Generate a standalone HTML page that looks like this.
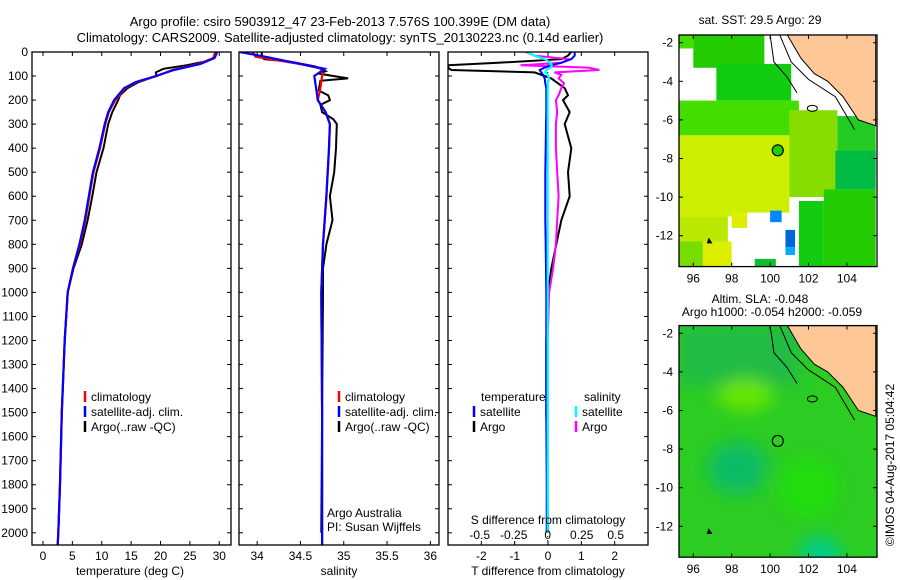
<!DOCTYPE html>
<html><head><meta charset="utf-8"><style>
body{margin:0;background:#fff;}
svg{display:block;font-family:"Liberation Sans",sans-serif;}
</style></head><body>
<svg id="fig" width="900" height="580" viewBox="0 0 900 580" xmlns="http://www.w3.org/2000/svg">
<text x="340" y="26" font-size="13" text-anchor="middle">Argo profile: csiro 5903912_47 23-Feb-2013 7.576S 100.399E (DM data)</text>
<text x="340" y="42" font-size="13" text-anchor="middle">Climatology: CARS2009. Satellite-adjusted climatology: synTS_20130223.nc (0.14d earlier)</text>
<g id="g"></g>
</svg>
<script>
// ---------- data ----------
const tDepth=[0,10,25,50,75,100,125,150,200,250,300,400,500,600,700,800,900,1000,1200,1500,1800,2000,2050];
const tClim=[29.3,29.2,29,26.5,22,19.4,16,14,12.3,11.2,10.6,9.7,8.6,7.9,7.2,6.3,5.1,4.2,3.7,3.2,2.9,2.6,2.5];
const tSat=[29.6,29.5,29.2,26.8,22.3,19.2,15.8,13.8,12.1,11.1,10.5,9.6,8.5,7.8,7.1,6.2,5.1,4.2,3.7,3.2,2.9,2.6,2.5];
const aDepth=[0,10,25,40,55,70,85,100,125,150,180,200,250,300,400,500,600,700,800,900,1000,1200,1500,1800,2000];
const tArgo=[29.6,29.4,29.1,27.5,24.5,20.5,19.2,19.3,16.3,14.4,13.1,12.8,11.8,11.1,10.3,9.1,8.4,7.6,6.6,5.2,4.2,3.7,3.2,2.9,2.6];
const sDepth=[0,20,50,70,100,150,200,250,300,400,600,800,1000,1500,2000,2050];
const sClim=[33.95,33.98,34.5,34.75,34.75,34.73,34.7,34.79,34.84,34.83,34.8,34.76,34.74,34.75,34.75,34.75];
const sSat=[33.8,34.1,34.5,34.78,34.66,34.68,34.7,34.79,34.84,34.83,34.8,34.76,34.74,34.75,34.75,34.75];
const saDepth=[0,20,30,40,60,80,90,110,120,160,180,200,220,250,280,300,400,500,600,700,800,900,1000,1500,2000];
const sArgo=[34.05,34.06,34.08,34.38,34.67,34.79,34.71,35.05,34.73,34.71,34.82,34.84,34.73,34.75,34.88,34.92,34.91,34.89,34.84,34.87,34.8,34.76,34.76,34.75,34.74];
const dDepth=[0,15,30,45,55,65,75,85,95,110,130,150,180,200,250,300,400,500,600,700,800,900,1000,1200,1500,1800,2000];
const dTArgo=[0.7,0.6,0.4,-1.5,-3,-3,-2.9,-0.4,-0.2,0.1,0.3,0.5,0.6,0.45,0.65,0.5,0.7,0.6,0.65,0.4,0.25,0.1,0,-0.05,-0.05,-0.02,0];
const dTSat=[0.8,0.8,0.7,0.4,0.1,-0.1,-0.25,-0.2,-0.15,-0.1,-0.08,-0.05,-0.05,-0.05,-0.05,-0.06,-0.07,-0.08,-0.08,-0.08,-0.07,-0.06,-0.05,-0.05,-0.05,-0.04,-0.04];
const dSArgo=[-0.16,-0.1,0.16,0.1,-0.2,0.3,0.38,0.05,0.1,0.08,0.12,0.1,0.08,0.06,0.07,0.06,0.06,0.07,0.08,0.07,0.06,0.04,0.01,0,0,0,0];
const dSSat=[-0.15,-0.1,-0.02,0.02,0.03,0.02,-0.01,-0.02,0,0.01,0,0,0,0,0,0,0,0,0,0,0,0,0,0,0,0,0];
const depthTicks=[0,100,200,300,400,500,600,700,800,900,1000,1100,1200,1300,1400,1500,1600,1700,1800,1900,2000];
const tTicks=[0,5,10,15,20,25,30];
const sTicks=[34,34.5,35,35.5,36];
const dTTicks=[-2,-1,0,1,2];
const dSTicks=[-0.5,-0.25,0,0.25,0.5];
const dSLabels=["-0.5","-0.25","0","0.25","0.5"];
const lonTicks=[96,98,100,102,104];
const latTicks=[-2,-4,-6,-8,-10,-12];
const argoLon=100.399, argoLat=-7.576;

// ---------- helpers ----------
const NS="http://www.w3.org/2000/svg";
const G=document.getElementById('g');
function mk(tag,attrs,parent,text){const e=document.createElementNS(NS,tag);for(const k in attrs)e.setAttribute(k,attrs[k]);if(text!==undefined)e.textContent=text;(parent||G).appendChild(e);return e;}
const yD=d=>52+d*0.2404;
function panel(x0,x1,xmin,xmax){return {x0,x1,sx:v=>x0+(v-xmin)/(xmax-xmin)*(x1-x0)};}
const P1=panel(32,231,-1.87,32.0), P2=panel(239,439,33.79,36.1), P3=panel(448,648,-3,3);
const sxS=v=>547.7+v*136;

function clipFor(p,id){const cp=mk('clipPath',{id:id});mk('rect',{x:p.x0,y:52,width:p.x1-p.x0,height:493},cp);}
function line(xs,ds,fx,color,w,clip,name){
  const pts=xs.map((v,i)=>fx(v).toFixed(1)+','+yD(ds[i]).toFixed(1)).join(' ');
  const e=mk('polyline',{points:pts,fill:'none',stroke:color,'stroke-width':w,'clip-path':'url(#'+clip+')'});
  
  
}
function frame(p,name){
  const r=mk('rect',{x:p.x0,y:52,width:p.x1-p.x0,height:493,fill:'none',stroke:'#000','stroke-width':1.3});
  
  
  depthTicks.forEach(d=>{const y=yD(d);mk('line',{x1:p.x0,x2:p.x0+4,y1:y,y2:y,stroke:'#000'});mk('line',{x1:p.x1-4,x2:p.x1,y1:y,y2:y,stroke:'#000'});});
}
function xticks(p,ticks,fx,labels,ly){
  ticks.forEach((t,i)=>{const x=fx(t);mk('line',{x1:x,x2:x,y1:545,y2:541,stroke:'#000'});mk('line',{x1:x,x2:x,y1:52,y2:56,stroke:'#000'});
    if(ly){const e=mk('text',{x:x,y:ly,'font-size':12,'text-anchor':'middle'},G,labels?labels[i]:String(t));
      
      }});
}
function legendEntry(x,y,color,label){
  mk('line',{x1:x,x2:x,y1:y-10,y2:y+1,stroke:color,'stroke-width':2.5});
  const e=mk('text',{x:x+6,y:y,'font-size':12},G,label);
  
  
}

// ---------- panel 1: temperature ----------
clipFor(P1,'c1');clipFor(P2,'c2');clipFor(P3,'c3');
line(tArgo,aDepth,P1.sx,'#000',2,'c1','temp-argo-line');
line(tClim,tDepth,P1.sx,'#f00',2.2,'c1','temp-climatology-line');
line(tSat,tDepth,P1.sx,'#00f',2.2,'c1','temp-satellite-line');
frame(P1,'temperature-panel');
xticks(P1,tTicks,P1.sx,null,560);
depthTicks.forEach(d=>{const e=mk('text',{x:28,y:yD(d)+4,'font-size':12,'text-anchor':'end'},G,String(d));
  
  });
let t=mk('text',{x:130,y:575,'font-size':12,'text-anchor':'middle'},G,'temperature (deg C)');

legendEntry(85,401,'#f00','climatology');legendEntry(85,416,'#00f','satellite-adj. clim.');legendEntry(85,431,'#000','Argo(..raw -QC)');

// ---------- panel 2: salinity ----------
line(sArgo,saDepth,P2.sx,'#000',2,'c2','salinity-argo-line');
line(sClim,sDepth,P2.sx,'#f00',2.2,'c2','salinity-climatology-line');
line(sSat,sDepth,P2.sx,'#00f',2.2,'c2','salinity-satellite-line');
frame(P2,'salinity-panel');
xticks(P2,sTicks,P2.sx,null,560);
t=mk('text',{x:339,y:575,'font-size':12,'text-anchor':'middle'},G,'salinity');

legendEntry(339,401,'#f00','climatology');legendEntry(339,416,'#00f','satellite-adj. clim.');legendEntry(339,431,'#000','Argo(..raw -QC)');
t=mk('text',{x:327,y:517,'font-size':12},G,'Argo Australia');
t=mk('text',{x:327,y:531,'font-size':12},G,'PI: Susan Wijffels');

// ---------- panel 3: differences ----------
mk('line',{x1:547.7,x2:547.7,y1:52,y2:545,stroke:'#000','stroke-dasharray':'1,3'});
line(dTArgo,dDepth,P3.sx,'#000',2,'c3','temp-diff-argo-line');
line(dSArgo,dDepth,sxS,'#f0f',2,'c3','sal-diff-argo-line');
line(dTSat,dDepth,P3.sx,'#00f',2,'c3','temp-diff-satellite-line');
line(dSSat,dDepth,sxS,'#0ff',2.2,'c3','sal-diff-satellite-line');
frame(P3,'difference-panel');
xticks(P3,dTTicks,P3.sx,null,560);
dSTicks.forEach((v,i)=>{const e=mk('text',{x:sxS(v),y:539,'font-size':12,'text-anchor':'middle'},G,dSLabels[i]);
  });
t=mk('text',{x:548,y:524,'font-size':12,'text-anchor':'middle'},G,'S difference from climatology');
t=mk('text',{x:548,y:575,'font-size':12,'text-anchor':'middle'},G,'T difference from climatology');
t=mk('text',{x:481,y:401,'font-size':12},G,'temperature');
t=mk('text',{x:584,y:401,'font-size':12},G,'salinity');
legendEntry(474,416,'#00f','satellite');legendEntry(474,431,'#000','Argo');
legendEntry(576,416,'#0ff','satellite');legendEntry(576,431,'#f0f','Argo');

// ---------- maps ----------
const sstRects=[[95.2,-1.6,105.5,-13.6,'#ffffff'],[96.0,-1.6,99.7,-3.3,'#22cc00'],[95.2,-1.6,96.0,-2.3,'#44dd00'],[97.2,-3.1,101.1,-5,'#11cc11'],
[95.2,-5,101.5,-6.8,'#44dd00'],[95.2,-6.8,101,-11,'#ccee00'],[101,-5.5,103.5,-10,'#88dd00'],[103.5,-5.8,105.5,-9,'#22cc22'],
[103.4,-7.6,105.5,-9.6,'#00bb44'],[102.8,-9.6,105.5,-13.6,'#22cc00'],[101.5,-10.2,102.8,-13.6,'#11cc11'],[95.2,-11,97.8,-12.3,'#bbe800'],
[95.2,-12.3,96.5,-13.6,'#77dd00'],[96.5,-12.3,98,-13.6,'#ddee00'],[98,-10.8,101.5,-13.6,'#ffffff'],[100,-10.7,100.6,-11.3,'#0088ff'],
[100.8,-11.7,101.3,-12.6,'#0066dd'],[100.8,-12.6,101.3,-13,'#00aaff'],[99.2,-13.2,100.3,-13.6,'#11bb33'],[98,-10.8,98.8,-11.6,'#ddee00']];
const landLon=[100.9,101.6,102.3,103.0,103.8,104.6,105.5,105.5];
const landLat=[-1.6,-2.8,-3.6,-4.0,-4.8,-6.0,-6.3,-1.6];
function map(y0,latTop,name,circleFill,drawBg){
  const sx=l=>693.3+(l-96)*19.2, sy=l=>y0+(latTop-l)*19.3;
  const top=sy(-1.6), bot=sy(-13.6);
  const cid='cm'+Math.round(y0);const cp=mk('clipPath',{id:cid});mk('rect',{x:679,y:top,width:198,height:bot-top},cp);
  const g=mk('g',{'clip-path':'url(#'+cid+')'});
  
  
  drawBg(g,sx,sy);
  mk('polygon',{points:landLon.map((l,i)=>sx(l)+','+sy(landLat[i])).join(' '),fill:'#fdc896',stroke:'#000','stroke-width':1},g);
  mk('polyline',{points:[[100,-1.6],[100.2,-3],[100.9,-3.8],[101.4,-4.6]].map(p=>sx(p[0])+','+sy(p[1])).join(' '),fill:'none',stroke:'#000'},g);
  mk('polyline',{points:[[100.5,-1.6],[101.1,-3.0],[102.0,-3.9],[103.4,-4.8],[104.4,-6.5]].map(p=>sx(p[0])+','+sy(p[1])).join(' '),fill:'none',stroke:'#000'},g);
  mk('ellipse',{cx:sx(102.2),cy:sy(-5.4),rx:5,ry:3,fill:'none',stroke:'#000'},g);
  mk('polygon',{points:[sx(96.8)+','+sy(-12.1),sx(96.7)+','+sy(-12.4),sx(97)+','+sy(-12.4)].join(' '),fill:'#000'},g);
  const c=mk('circle',{cx:sx(argoLon),cy:sy(argoLat),r:5.5,fill:circleFill,stroke:'#000','stroke-width':1.2});
  
  
  mk('rect',{x:679,y:top,width:198,height:bot-top,fill:'none',stroke:'#000','stroke-width':1.3});
  lonTicks.forEach(l=>{const x=sx(l);mk('line',{x1:x,x2:x,y1:bot,y2:bot-4,stroke:'#000'});mk('line',{x1:x,x2:x,y1:top,y2:top+4,stroke:'#000'});
    const e=mk('text',{x:x,y:bot+16,'font-size':12,'text-anchor':'middle'},G,String(l));
    });
  latTicks.forEach(l=>{const y=sy(l);mk('line',{x1:679,x2:683,y1:y,y2:y,stroke:'#000'});mk('line',{x1:873,x2:877,y1:y,y2:y,stroke:'#000'});
    const e=mk('text',{x:673,y:y+4,'font-size':12,'text-anchor':'end'},G,String(l));
    });
}
map(42.7,-2,'sst-map','#22cc00',(g,sx,sy)=>{
  sstRects.forEach(r=>mk('rect',{x:sx(r[0]),y:sy(r[1]),width:sx(r[2])-sx(r[0]),height:sy(r[3])-sy(r[1]),fill:r[4]},g));
});
map(333.3,-2,'sla-map','none',(g,sx,sy)=>{
  const f=mk('defs',{},g);const fl=mk('filter',{id:'bl'},f);mk('feGaussianBlur',{stdDeviation:8},fl);
  mk('rect',{x:679,y:sy(-1.6),width:198,height:240,fill:'#2ccc22'},g);
  const gb=mk('g',{filter:'url(#bl)'},g);
  mk('rect',{x:679,y:sy(-1.6),width:120,height:60,fill:'#22bb44'},gb);
  mk('ellipse',{cx:sx(98.7),cy:sy(-5.2),rx:28,ry:16,fill:'#66e600'},gb);
  mk('ellipse',{cx:sx(98.3),cy:sy(-9),rx:30,ry:26,fill:'#11bb66'},gb);
  mk('ellipse',{cx:sx(102.6),cy:sy(-13.3),rx:22,ry:14,fill:'#00cc88'},gb);
  mk('ellipse',{cx:sx(102),cy:sy(-10),rx:30,ry:30,fill:'#22dd11'},gb);
});
t=mk('text',{x:760,y:24,'font-size':12,'text-anchor':'middle'},G,'sat. SST: 29.5 Argo: 29');
t=mk('text',{x:760,y:303,'font-size':12,'text-anchor':'middle'},G,'Altim. SLA: -0.048');
t=mk('text',{x:772,y:316,'font-size':12,'text-anchor':'middle'},G,'Argo h1000: -0.054 h2000: -0.059');
t=mk('text',{x:0,y:0,'font-size':12,'text-anchor':'middle',transform:'translate(894,465) rotate(-90)'},G,'©IMOS 04-Aug-2017 05:04:42');

</script>
</body></html>
